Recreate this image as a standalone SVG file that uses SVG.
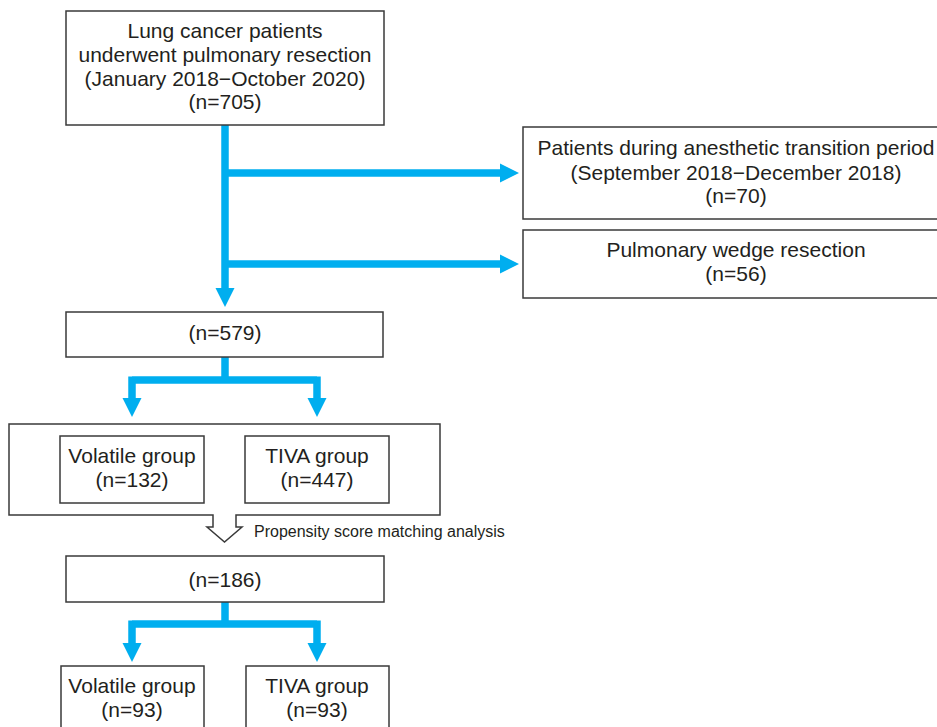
<svg xmlns="http://www.w3.org/2000/svg" width="937" height="727" viewBox="0 0 937 727">
<style>
.box{fill:#fff;stroke:#3a3a3a;stroke-width:1.5}
.t{font-family:"Liberation Sans",Arial,sans-serif;font-size:21px;fill:#231f20;text-anchor:middle}
.s{font-family:"Liberation Sans",Arial,sans-serif;font-size:16px;fill:#231f20}
.ln{fill:none;stroke:#00aeef;stroke-width:7.5}
.hd{fill:#00aeef}
</style>
<rect width="937" height="727" fill="#fff"/>
<g id="connectors">
<path class="ln" d="M225,125 V290"/>
<path class="ln" d="M225,173 H502"/>
<path class="ln" d="M225,264 H502"/>
<polygon class="hd" points="500,163.5 519,173 500,182.5"/>
<polygon class="hd" points="500,254.5 519,264 500,273.5"/>
<polygon class="hd" points="215.5,288 234.5,288 225,307"/>
<path class="ln" d="M225,357 V380 M132,380 H317 M132,376.5 V400 M317,376.5 V400"/>
<polygon class="hd" points="122.5,398 141.5,398 132,417"/>
<polygon class="hd" points="307.5,398 326.5,398 317,417"/>
<path class="ln" d="M225,602 V624 M132,624 H317 M132,620.5 V645 M317,620.5 V645"/>
<polygon class="hd" points="122.5,643 141.5,643 132,662"/>
<polygon class="hd" points="307.5,643 326.5,643 317,662"/>
</g>
<g id="n1">
<rect class="box" x="66" y="11" width="318" height="114"/>
<text class="t" x="225" y="38">Lung cancer patients</text>
<text class="t" x="225" y="62">underwent pulmonary resection</text>
<text class="t" x="225" y="86">(January 2018−October 2020)</text>
<text class="t" x="225" y="109">(n=705)</text>
</g>
<g id="n2">
<rect class="box" x="523" y="127" width="430" height="92"/>
<text class="t" x="736" y="155">Patients during anesthetic transition period</text>
<text class="t" x="736" y="180">(September 2018−December 2018)</text>
<text class="t" x="736" y="203">(n=70)</text>
</g>
<g id="n3">
<rect class="box" x="523" y="230" width="430" height="68"/>
<text class="t" x="736" y="257">Pulmonary wedge resection</text>
<text class="t" x="736" y="281">(n=56)</text>
</g>
<g id="n4">
<rect class="box" x="66" y="312" width="317" height="45"/>
<text class="t" x="225" y="340">(n=579)</text>
</g>
<g id="n5">
<path class="box" d="M213,515 H9 V424 H440 V515 H236 V527 H242 L224.5,542 L207,527 H213 Z"/>
<text class="s" x="254" y="537">Propensity score matching analysis</text>
</g>
<g id="n6">
<rect class="box" x="60" y="436" width="144" height="67"/>
<text class="t" x="132" y="463">Volatile group</text>
<text class="t" x="132" y="487">(n=132)</text>
</g>
<g id="n7">
<rect class="box" x="245" y="436" width="144" height="67"/>
<text class="t" x="317" y="463">TIVA group</text>
<text class="t" x="317" y="487">(n=447)</text>
</g>
<g id="n8">
<rect class="box" x="66" y="556" width="318" height="46"/>
<text class="t" x="225" y="587">(n=186)</text>
</g>
<g id="n9">
<rect class="box" x="61" y="666" width="143" height="80"/>
<text class="t" x="132" y="693">Volatile group</text>
<text class="t" x="132" y="717">(n=93)</text>
</g>
<g id="n10">
<rect class="box" x="246" y="666" width="143" height="80"/>
<text class="t" x="317" y="693">TIVA group</text>
<text class="t" x="317" y="717">(n=93)</text>
</g>
</svg>
